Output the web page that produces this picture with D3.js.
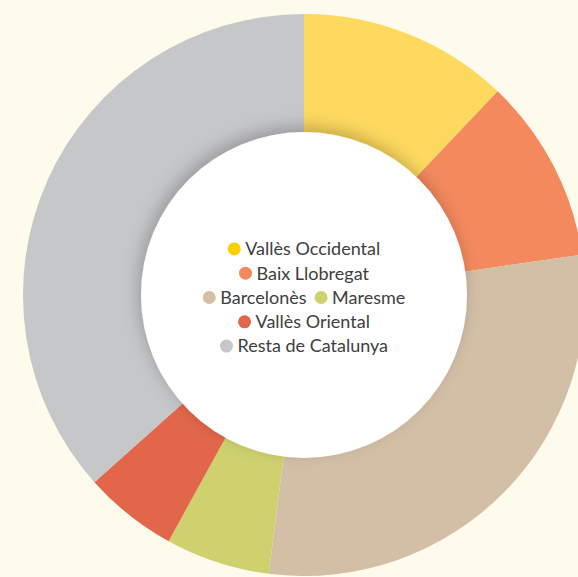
<!DOCTYPE html>
<html><head><meta charset="utf-8">
<script src="https://cdn.jsdelivr.net/npm/d3@7"></script>
<style>html,body{margin:0;padding:0;background:#FEFAEC;}svg{display:block;}</style>
</head><body>
<script>
const categories = ["Vallès Occidental","Baix Llobregat","Barcelonès","Maresme","Vallès Oriental","Resta de Catalunya"];
const values = [12.1, 10.6, 29.3, 6.0, 5.4, 36.6];
const sliceColors = ["#FDD95E","#F4895E","#D3BEA6","#CED16E","#E2674A","#C6C7C9"];
const dotColors = ["#FAD000","#F4895E","#D3BEA6","#CED16E","#E2674A","#C6C7C9"];

const W = 578, H = 577, cx = 304, cy = 295, R = 281, r = 163;
const svg = d3.select("body").append("svg").attr("width", W).attr("height", H);
svg.append("rect").attr("width", W).attr("height", H).attr("fill", "#FEFAEC");

const defs = svg.append("defs");
const f = defs.append("filter").attr("id","sh").attr("x","-30%").attr("y","-30%").attr("width","160%").attr("height","160%");
f.append("feDropShadow").attr("dx",-3).attr("dy",-6).attr("stdDeviation",8).attr("flood-color","#000").attr("flood-opacity",0.22);

const g = svg.append("g").attr("transform", `translate(${cx},${cy})`);
const pie = d3.pie().sort(null).value(d => d).startAngle(0).endAngle(2*Math.PI);
const arc = d3.arc().innerRadius(r - 20).outerRadius(R);
g.selectAll("path.slice").data(pie(values)).join("path")
  .attr("class","slice").attr("d", arc).attr("fill", (d,i) => sliceColors[i]);
g.append("circle").attr("r", r).attr("fill", "#fff").attr("filter","url(#sh)");

// legend
const fontSize = 18, dotR = 6.5, dotGap = 4.5, itemGap = 8, maxW = 225, rowH = 24.3;
const lg = svg.append("g").attr("font-family","Lato, sans-serif").attr("font-size", fontSize).attr("fill","#404040");
const meas = lg.append("text").attr("visibility","hidden");
const items = categories.map((c,i) => {
  meas.text(c);
  const tw = meas.node().getComputedTextLength();
  return {c, i, w: dotR*2 + dotGap + tw};
});
meas.remove();
const rows = [];
let cur = [], curW = 0;
items.forEach(it => {
  const add = cur.length ? itemGap + it.w : it.w;
  if (cur.length && curW + add > maxW) { rows.push({items:cur, w:curW}); cur = [it]; curW = it.w; }
  else { cur.push(it); curW += add; }
});
if (cur.length) rows.push({items:cur, w:curW});
const y0 = cy + 2.5 - (rows.length - 1) * rowH / 2;
rows.forEach((row, ri) => {
  let x = cx - row.w / 2;
  const y = y0 + ri * rowH;
  row.items.forEach(it => {
    lg.append("circle").attr("cx", x + dotR).attr("cy", y).attr("r", dotR).attr("fill", dotColors[it.i]);
    lg.append("text").attr("x", x + dotR*2 + dotGap).attr("y", y).attr("dy","0.35em").text(it.c);
    x += it.w + itemGap;
  });
});
</script>
</body></html>
